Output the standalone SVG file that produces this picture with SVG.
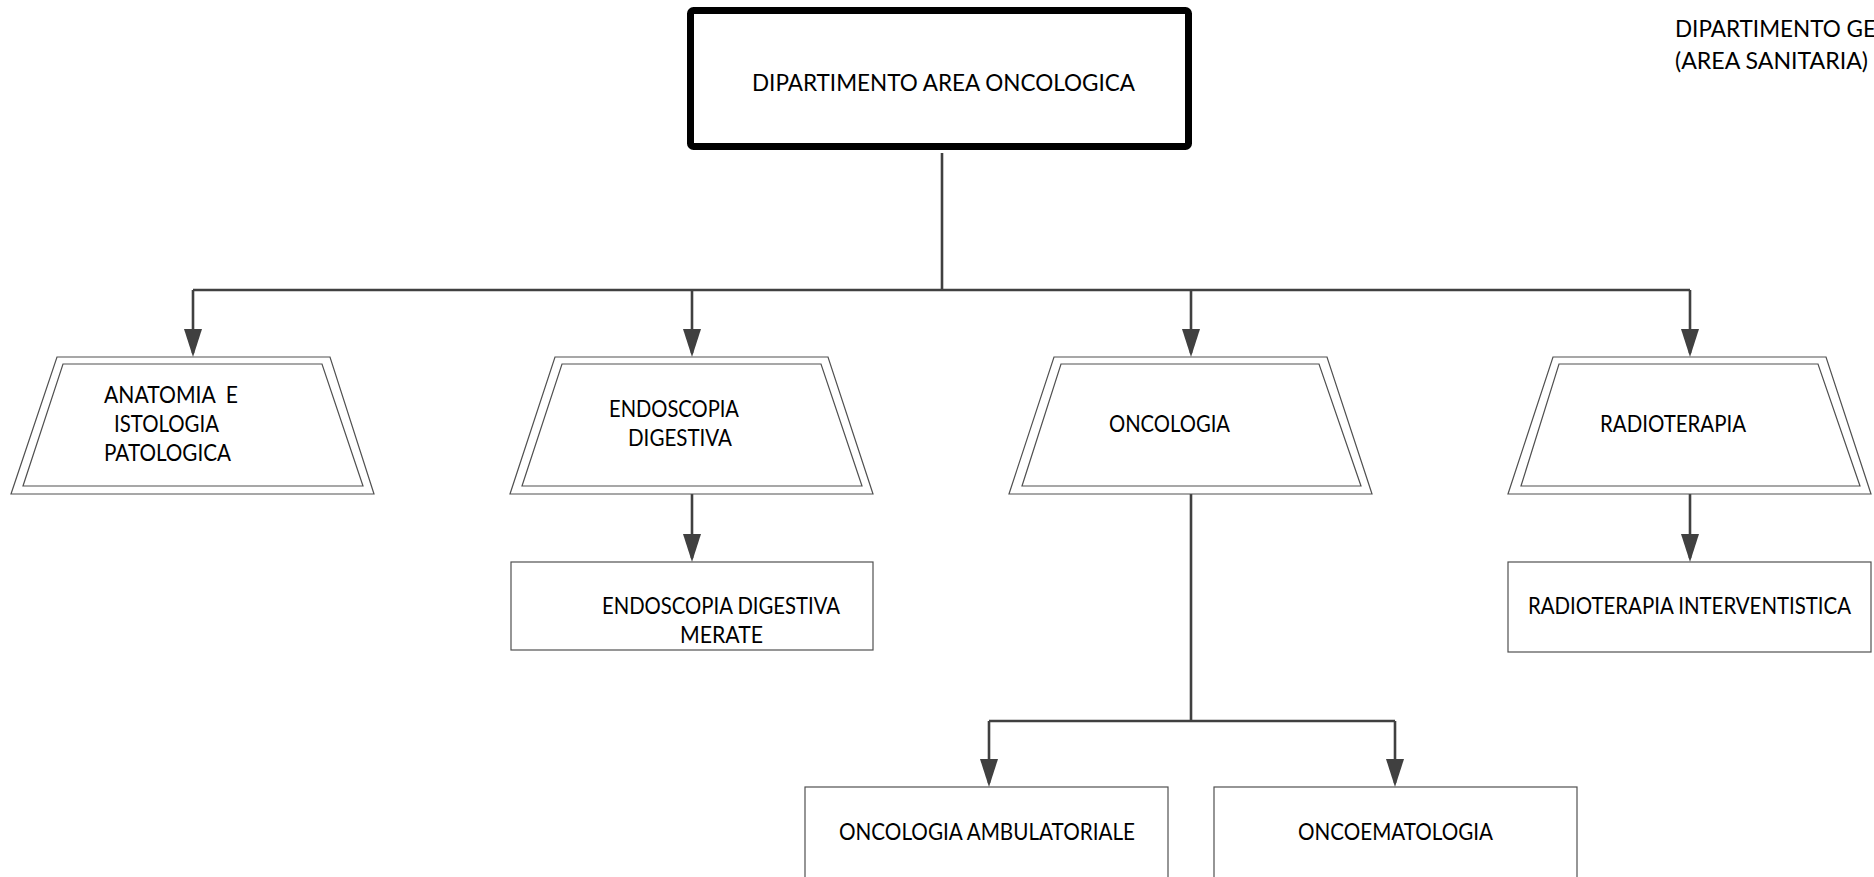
<svg xmlns="http://www.w3.org/2000/svg" width="1874" height="877" viewBox="0 0 1874 877">
<defs>
<style>
.t{font-family:Lato,"Open Sans","Liberation Sans",sans-serif;font-size:22.2px;fill:#000;}
.tz{fill:#fff;stroke:#505050;stroke-width:1.2;}
.bx{fill:#fff;stroke:#505050;stroke-width:1.2;}
.cn{fill:none;stroke:#404040;stroke-width:2.6;}
</style>
<marker id="ah" viewBox="0 0 28 18" refX="24" refY="9" markerWidth="28" markerHeight="18" orient="auto" markerUnits="userSpaceOnUse">
<path d="M0,0 L28,9 L0,18 Z" fill="#404040"/>
</marker>
</defs>
<rect width="1874" height="877" fill="#fff"/>

<g id="connectors">
<path class="cn" d="M942,153 V290"/>
<path class="cn" d="M193,290 H1690" stroke-width="3.2"/>
<path class="cn" d="M193,290 V353" marker-end="url(#ah)"/>
<path class="cn" d="M692,290 V353" marker-end="url(#ah)"/>
<path class="cn" d="M1191,290 V353" marker-end="url(#ah)"/>
<path class="cn" d="M1690,290 V353" marker-end="url(#ah)"/>
<path class="cn" d="M692,494 V558" marker-end="url(#ah)"/>
<path class="cn" d="M1690,494 V558" marker-end="url(#ah)"/>
<path class="cn" d="M1191,494 V721"/>
<path class="cn" d="M989,721 H1395"/>
<path class="cn" d="M989,721 V783" marker-end="url(#ah)"/>
<path class="cn" d="M1395,721 V783" marker-end="url(#ah)"/>
</g>

<g id="dip-oncologica">
<rect x="690.5" y="10.5" width="498" height="136" rx="3" fill="#fff" stroke="#000" stroke-width="7"/>
<text class="t" x="752" y="91" font-size="24.2" textLength="383" lengthAdjust="spacingAndGlyphs">DIPARTIMENTO AREA ONCOLOGICA</text>
</g>

<g id="dip-gestionale">
<text class="t" x="1675" y="37" font-size="23.6" textLength="201" lengthAdjust="spacingAndGlyphs">DIPARTIMENTO GE</text>
<text class="t" x="1675" y="69" font-size="23.6" textLength="193" lengthAdjust="spacingAndGlyphs">(AREA SANITARIA)</text>
</g>

<g id="anatomia">
<polygon class="tz" points="57,357 330,357 374,494 11,494"/>
<polygon class="tz" points="63,364 322,364 363,486 23,486"/>
<text class="t" x="104" y="403" textLength="134" lengthAdjust="spacingAndGlyphs" xml:space="preserve">ANATOMIA  E</text>
<text class="t" x="114" y="432" textLength="105" lengthAdjust="spacingAndGlyphs">ISTOLOGIA</text>
<text class="t" x="104" y="461" textLength="127" lengthAdjust="spacingAndGlyphs">PATOLOGICA</text>
</g>

<g id="endoscopia">
<polygon class="tz" points="555,357 828,357 873,494 510,494"/>
<polygon class="tz" points="562,364 821,364 862,486 522,486"/>
<text class="t" x="609" y="417" textLength="130" lengthAdjust="spacingAndGlyphs">ENDOSCOPIA</text>
<text class="t" x="628" y="446" textLength="104" lengthAdjust="spacingAndGlyphs">DIGESTIVA</text>
</g>

<g id="oncologia">
<polygon class="tz" points="1054,357 1327,357 1372,494 1009,494"/>
<polygon class="tz" points="1061,364 1319,364 1361,486 1022,486"/>
<text class="t" x="1109" y="432" textLength="121" lengthAdjust="spacingAndGlyphs">ONCOLOGIA</text>
</g>

<g id="radioterapia">
<polygon class="tz" points="1553,357 1826,357 1871,494 1508,494"/>
<polygon class="tz" points="1559,364 1818,364 1860,486 1521,486"/>
<text class="t" x="1600" y="432" textLength="146" lengthAdjust="spacingAndGlyphs">RADIOTERAPIA</text>
</g>

<g id="endoscopia-merate">
<rect class="bx" x="511" y="562" width="362" height="88"/>
<text class="t" x="602" y="614" textLength="238" lengthAdjust="spacingAndGlyphs">ENDOSCOPIA DIGESTIVA</text>
<text class="t" x="680" y="643" textLength="83" lengthAdjust="spacingAndGlyphs">MERATE</text>
</g>

<g id="radioterapia-interventistica">
<rect class="bx" x="1508" y="562" width="363" height="90"/>
<text class="t" x="1528" y="614" textLength="323" lengthAdjust="spacingAndGlyphs">RADIOTERAPIA INTERVENTISTICA</text>
</g>

<g id="oncologia-ambulatoriale">
<rect class="bx" x="805" y="787" width="363" height="120"/>
<text class="t" x="839" y="840" textLength="296" lengthAdjust="spacingAndGlyphs">ONCOLOGIA AMBULATORIALE</text>
</g>

<g id="oncoematologia">
<rect class="bx" x="1214" y="787" width="363" height="120"/>
<text class="t" x="1298" y="840" textLength="195" lengthAdjust="spacingAndGlyphs">ONCOEMATOLOGIA</text>
</g>
</svg>
